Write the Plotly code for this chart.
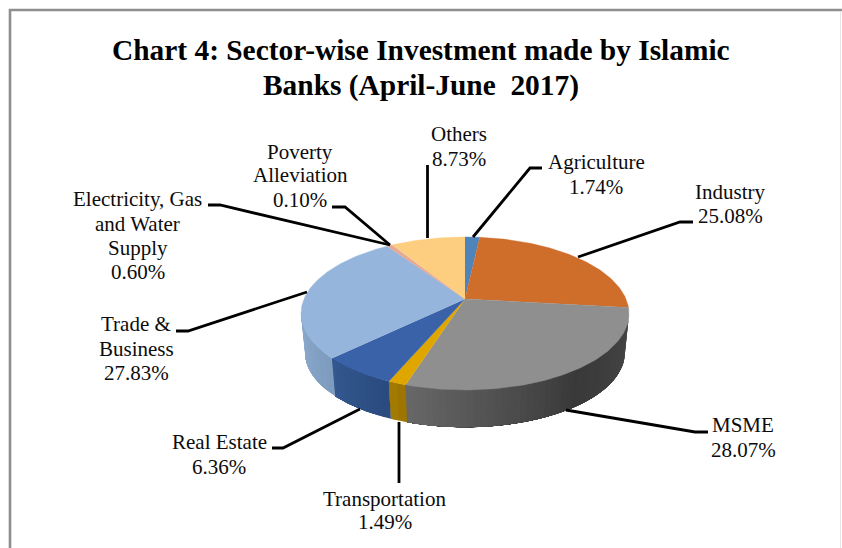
import math
import plotly.graph_objects as go

# ---- data ----
sectors = ["Agriculture", "Industry", "MSME", "Transportation", "Real Estate",
           "Trade & Business", "Electricity, Gas and Water Supply",
           "Poverty Alleviation", "Others"]
shares = [1.74, 25.08, 28.07, 1.49, 6.36, 27.83, 0.60, 0.10, 8.73]
label_names = [["Agriculture"], ["Industry"], ["MSME"], ["Transportation"], ["Real Estate"],
               ["Trade &", "Business"], ["Electricity, Gas", "and Water", "Supply"],
               ["Poverty", "Alleviation"], ["Others"]]
title_lines = ["Chart 4: Sector-wise Investment made by Islamic", "Banks (April-June  2017)"]

# ---- styles ----
top_colors = ["#4f84ba", "#cf6d2a", "#8f8f8f", "#e0a600", "#3a62a9",
              "#95b5dc", "#eaa78f", "#d9c3a0", "#fdcd80"]
# wall shades: position along the wall, counted from its left end
wall_shades = {2: [(0.0, "#686868"), (0.55, "#393939"), (1.0, "#474747")],
               3: [(0.0, "#a67c00"), (1.0, "#9a7300")],
               4: [(0.0, "#33588f"), (1.0, "#2a4a7e")],
               5: [(0.0, "#8eaccf"), (1.0, "#7d9bbd")]}
FONT = "Liberation Serif"
TEXT_SIZE = 21
INK = "#0c0c0c"

# ---- pie geometry (perspective disc in page-pixel axes) ----
CX, CY = 465.0, 299.0
A, B, K = 161.0, 73.75, 0.1895
DEPTH, BASE_SCALE = 39.5, 0.975
VIS_FROM, VIS_TO = 100.9, 260.0


def rim(theta, base=False):
    t = math.radians(theta)
    X, Y = math.sin(t), math.cos(t)
    d = 1 + K * Y
    x, y = A * X / d, -B * Y / d
    if base:
        return CX + BASE_SCALE * x, CY + DEPTH + BASE_SCALE * y
    return CX + x, CY + y


def hex2rgb(h):
    return tuple(int(h[i:i + 2], 16) for i in (1, 3, 5))


def shade(stops, f):
    for (f0, c0), (f1, c1) in zip(stops, stops[1:]):
        if f <= f1:
            u = (f - f0) / (f1 - f0) if f1 > f0 else 0
            a, b = hex2rgb(c0), hex2rgb(c1)
            return "rgb(%d,%d,%d)" % tuple(round(a[i] + (b[i] - a[i]) * u) for i in range(3))
    return stops[-1][1]


fig = go.Figure()


def poly(xs, ys, color, lw=0.6):
    fig.add_trace(go.Scatter(x=xs, y=ys, mode="lines", fill="toself", fillcolor=color,
                             line=dict(color=color, width=lw), hoverinfo="skip", showlegend=False))


# slice angle ranges come straight from the shares
total = sum(shares)
bounds = [0.0]
for v in shares:
    bounds.append(bounds[-1] + v / total * 360.0)

# side walls: each step repaints from its start angle to the end of the slice,
# so that neighbouring steps leave no seam
for i, stops in wall_shades.items():
    a0, a1 = max(bounds[i], VIS_FROM), min(bounds[i + 1], VIS_TO)
    n = max(2, int((a1 - a0) / 2.0))
    for j in range(n):
        t0 = a0 + (a1 - a0) * j / n
        f = 1 - (j + 0.5) / n
        m = 24
        arc = [t0 + (a1 - t0) * k / m for k in range(m + 1)]
        p = [rim(t) for t in arc] + [rim(t, True) for t in reversed(arc)]
        poly([q[0] for q in p], [q[1] for q in p], shade(stops, f), 0)

# top faces
for i in range(len(shares)):
    n = max(2, int((bounds[i + 1] - bounds[i]) / 1.0))
    pts = [rim(bounds[i] + (bounds[i + 1] - bounds[i]) * j / n) for j in range(n + 1)]
    poly([CX] + [q[0] for q in pts], [CY] + [q[1] for q in pts], top_colors[i], 0.4)

# leader lines
leaders = {
    "Others": [(427.5, 165), (427.5, 238)],
    "Agriculture": [(542, 168), (530, 168), (473, 237)],
    "Industry": [(693, 222), (680, 222), (578, 257)],
    "MSME": [(708, 432), (695, 432), (566, 410)],
    "Transportation": [(399, 483), (399, 422)],
    "Real Estate": [(272, 448), (283, 448), (360, 409)],
    "Trade & Business": [(176, 331), (188, 331), (307, 292)],
    "Electricity, Gas and Water Supply": [(208, 205), (220, 205), (390, 245)],
    "Poverty Alleviation": [(332, 207), (345, 207), (390, 245)],
}
for pts in leaders.values():
    fig.add_trace(go.Scatter(x=[p[0] for p in pts], y=[p[1] for p in pts], mode="lines",
                             line=dict(color="#000000", width=2.8), hoverinfo="skip", showlegend=False))

# label placement: centre x and the y of each text line
label_pos = {
    "Agriculture": (596, [161.5, 186.5]),
    "Industry": (730, [191.5, 216]),
    "MSME": (743, [424.5, 450]),
    "Transportation": (384.5, [498.5, 522]),
    "Real Estate": (219, [441.5, 466.5]),
    "Trade & Business": (136, [323.5, 349, 373]),
    "Electricity, Gas and Water Supply": (137.5, [198.5, 223.5, 247.5, 272]),
    "Poverty Alleviation": (300, [151.5, 175, 199.5]),
    "Others": (459, [133.5, 159]),
}
annotations = []
for name, lines, v in zip(sectors, label_names, shares):
    cx, ys = label_pos[name]
    for txt, y in zip(lines + ["%.2f%%" % v], ys):
        annotations.append(dict(x=cx, y=y, text=txt, showarrow=False, xref="x", yref="y",
                                xanchor="center", yanchor="middle",
                                font=dict(family=FONT, size=TEXT_SIZE, color=INK)))
for txt, y in zip(title_lines, [50, 85]):
    annotations.append(dict(x=420.5, y=y, text="<b>%s</b>" % txt, showarrow=False, xref="x", yref="y",
                            xanchor="center", yanchor="middle",
                            font=dict(family=FONT, size=29.4, color="#000000")))

frame = [
    dict(type="line", x0=10, x1=10, y0=9, y1=548, line=dict(color="#8e8e8e", width=2.6)),
    dict(type="line", x0=9, x1=842, y0=10, y1=10, line=dict(color="#8e8e8e", width=2.6)),
    dict(type="line", x0=840.5, x1=840.5, y0=11, y1=548, line=dict(color="#e6e6e6", width=1)),
]

fig.update_layout(width=842, height=548, margin=dict(l=0, r=0, t=0, b=0),
                  paper_bgcolor="white", plot_bgcolor="white", showlegend=False,
                  xaxis=dict(range=[0, 842], visible=False, fixedrange=True),
                  yaxis=dict(range=[548, 0], visible=False, fixedrange=True),
                  annotations=annotations, shapes=frame)
fig.write_html("out.html", config={"displayModeBar": False},
               post_script="document.body.style.margin='0';document.body.style.overflow='hidden';")
